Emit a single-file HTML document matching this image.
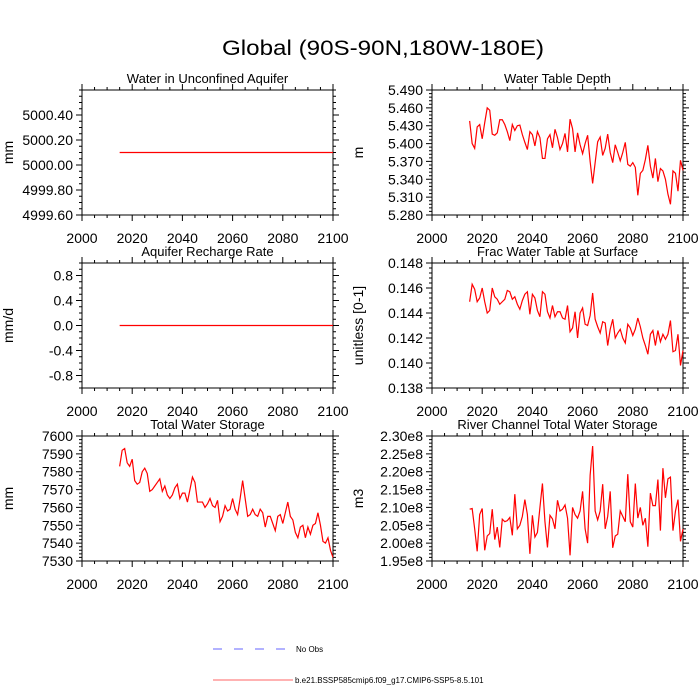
<!DOCTYPE html>
<html><head><meta charset="utf-8"><style>
html,body{margin:0;padding:0;background:#fff;}
svg{display:block;font-family:"Liberation Sans",sans-serif;}
</style></head><body>
<svg id="c" width="700" height="700" viewBox="0 0 700 700">
<text x="383" y="55" text-anchor="middle" font-size="21" textLength="322" lengthAdjust="spacingAndGlyphs">Global (90S-90N,180W-180E)</text>
<g>
<line x1="213" y1="649" x2="287" y2="649" stroke="#6666ff" stroke-dasharray="9,12"/>
<text x="296" y="652" font-size="8">No Obs</text>
<line x1="213" y1="680" x2="293" y2="680" stroke="#ff6666"/>
<text x="295" y="683" font-size="8">b.e21.BSSP585cmip6.f09_g17.CMIP6-SSP5-8.5.101</text>
</g>
</svg>
<script>
const years=[];for(let y=2015;y<=2100;y++)years.push(y);
const xTicks=[2000,2020,2040,2060,2080,2100];
const aquiferWater=years.map(()=>5000.1);
const rechargeRate=years.map(()=>0.0);
const waterTableDepth=[5.438,5.400,5.392,5.428,5.432,5.408,5.435,5.460,5.456,5.416,5.414,5.418,5.440,5.440,5.432,5.420,5.405,5.432,5.422,5.430,5.431,5.415,5.402,5.390,5.420,5.415,5.396,5.420,5.410,5.375,5.375,5.408,5.415,5.393,5.424,5.410,5.390,5.400,5.417,5.386,5.441,5.425,5.386,5.418,5.398,5.383,5.400,5.414,5.370,5.333,5.368,5.403,5.411,5.380,5.392,5.416,5.385,5.368,5.398,5.385,5.371,5.385,5.402,5.365,5.362,5.368,5.360,5.313,5.350,5.355,5.373,5.397,5.362,5.342,5.375,5.336,5.358,5.354,5.340,5.315,5.298,5.354,5.350,5.320,5.372,5.355];
const fracWaterTable=[.1449,.1463,.1459,.1449,.1452,.1460,.1449,.1440,.1442,.1460,.1453,.1451,.1447,.1449,.1451,.1458,.1457,.1451,.1453,.1447,.1443,.1450,.1455,.1457,.1439,.1455,.1452,.1442,.1437,.1457,.1455,.1441,.1436,.1446,.1437,.1441,.1441,.1436,.1435,.1446,.1425,.1428,.1441,.1420,.1440,.1444,.1431,.1430,.1438,.1456,.1435,.1429,.1424,.1433,.1432,.1414,.1427,.1435,.1420,.1424,.1427,.1420,.1416,.1431,.1428,.1422,.1427,.1436,.1429,.1420,.1414,.1407,.1423,.1426,.1414,.1426,.1417,.1423,.1419,.1423,.1434,.1409,.1410,.1423,.1398,.1410];
const totalWaterStorage=[7583,7592,7593,7585,7583,7587,7575,7573,7574,7580,7582,7579,7569,7570,7572,7574,7576,7569,7572,7567,7565,7567,7571,7573,7565,7568,7568,7563,7570,7577,7574,7563,7563,7563,7560,7562,7565,7561,7560,7564,7552,7555,7561,7558,7559,7565,7559,7556,7565,7575,7565,7555,7556,7559,7556,7555,7559,7557,7549,7555,7555,7551,7547,7555,7556,7551,7557,7563,7555,7553,7546,7543,7549,7550,7543,7549,7545,7550,7551,7557,7550,7541,7540,7543,7536,7532];
const riverStorage=[2.095,2.097,2.040,1.977,2.080,2.097,1.980,2.020,2.027,2.095,2.010,2.045,1.988,2.067,2.060,2.063,2.072,2.022,2.137,2.040,2.050,2.075,2.122,2.080,1.970,2.078,2.017,2.030,2.100,2.167,2.060,1.988,2.078,2.068,2.040,2.120,2.090,2.095,2.107,2.070,1.966,2.100,2.080,2.070,2.090,2.145,2.040,2.000,2.190,2.272,2.090,2.065,2.090,2.165,2.040,2.075,2.145,1.987,2.020,2.025,2.090,2.075,2.060,2.193,2.060,2.045,2.167,2.070,2.100,2.050,2.070,1.990,2.140,2.105,2.105,2.178,2.035,2.210,2.127,2.180,2.185,2.035,2.090,2.122,2.005,2.040].map(v=>v*1e8);

const NS="http://www.w3.org/2000/svg";
const svg=document.getElementById('c');
function el(t,a,p){const e=document.createElementNS(NS,t);for(const k in a)e.setAttribute(k,a[k]);(p||svg).appendChild(e);return e;}

const panels=[
 {name:'unconfined-aquifer',title:'Water in Unconfined Aquifer',yl:'mm',x0:82,y0:90,ymin:4999.6,ymax:5000.6,ticks:[4999.6,4999.8,5000.0,5000.2,5000.4],minor:0.05,fmt:v=>v.toFixed(2),data:aquiferWater},
 {name:'water-table-depth',title:'Water Table Depth',yl:'m',x0:432,y0:90,ymin:5.28,ymax:5.49,ticks:[5.28,5.31,5.34,5.37,5.40,5.43,5.46,5.49],minor:0.006,fmt:v=>v.toFixed(3),data:waterTableDepth},
 {name:'aquifer-recharge',title:'Aquifer Recharge Rate',yl:'mm/d',x0:82,y0:263,ymin:-1,ymax:1,ticks:[-0.8,-0.4,0,0.4,0.8],minor:0.1,fmt:v=>v.toFixed(1),data:rechargeRate},
 {name:'frac-water-table',title:'Frac Water Table at Surface',yl:'unitless [0-1]',x0:432,y0:263,ymin:0.138,ymax:0.148,ticks:[0.138,0.140,0.142,0.144,0.146,0.148],minor:0.0004,fmt:v=>v.toFixed(3),data:fracWaterTable},
 {name:'total-water-storage',title:'Total Water Storage',yl:'mm',x0:82,y0:436,ymin:7530,ymax:7600,ticks:[7530,7540,7550,7560,7570,7580,7590,7600],minor:2,fmt:v=>v.toFixed(0),data:totalWaterStorage},
 {name:'river-channel-storage',title:'River Channel Total Water Storage',yl:'m3',x0:432,y0:436,ymin:1.95e8,ymax:2.30e8,ticks:[1.95e8,2.00e8,2.05e8,2.10e8,2.15e8,2.20e8,2.25e8,2.30e8],minor:0.01e8,fmt:v=>(v/1e8).toFixed(2)+'e8',data:riverStorage}
];
const W=251,H=125;
panels.forEach(p=>{
 const g=el('g',{});
 
 
 const xs=v=>p.x0+(v-2000)/100*W;
 const ys=v=>p.y0+H-(v-p.ymin)/(p.ymax-p.ymin)*H;
 const t=el('text',{x:p.x0+W/2,y:p.y0-7,'text-anchor':'middle','font-size':13},g);t.textContent=p.title;
 
 const yt=el('text',{x:0,y:0,'text-anchor':'middle','font-size':14,transform:`translate(${p.x0-69},${p.y0+H/2}) rotate(-90)`},g);yt.textContent=p.yl;
 
 let path='';
 const n=Math.round((p.ymax-p.ymin)/p.minor);
 for(let i=0;i<=n;i++){const y=ys(p.ymin+i*p.minor);path+=`M${p.x0} ${y}h-3M${p.x0+W} ${y}h3`;}
 p.ticks.forEach(v=>{const y=ys(v);path+=`M${p.x0} ${y}h-6M${p.x0+W} ${y}h6`;
  const tl=el('text',{x:p.x0-9,y:y+5,'text-anchor':'end','font-size':14},g);tl.textContent=p.fmt(v);
  });
 for(let x=2000;x<=2100;x+=5){const X=xs(x);path+=`M${X} ${p.y0+H}v3M${X} ${p.y0}v-3`;}
 xTicks.forEach(v=>{const X=xs(v);path+=`M${X} ${p.y0+H}v6M${X} ${p.y0}v-6`;
  const tl=el('text',{x:X,y:p.y0+H+28,'text-anchor':'middle','font-size':14},g);tl.textContent=v;
  });
 const tk=el('path',{d:path,stroke:'#000','stroke-width':1,fill:'none'},g);
 
 const fr=el('rect',{x:p.x0,y:p.y0,width:W,height:H,fill:'none',stroke:'#000','stroke-width':1},g);
 
 const pts=p.data.map((v,i)=>xs(years[i]).toFixed(2)+','+ys(v).toFixed(2)).join(' ');
 const ln=el('polyline',{points:pts,fill:'none',stroke:'#ff0000','stroke-width':1.2},g);
 
});
</script>
</body></html>
